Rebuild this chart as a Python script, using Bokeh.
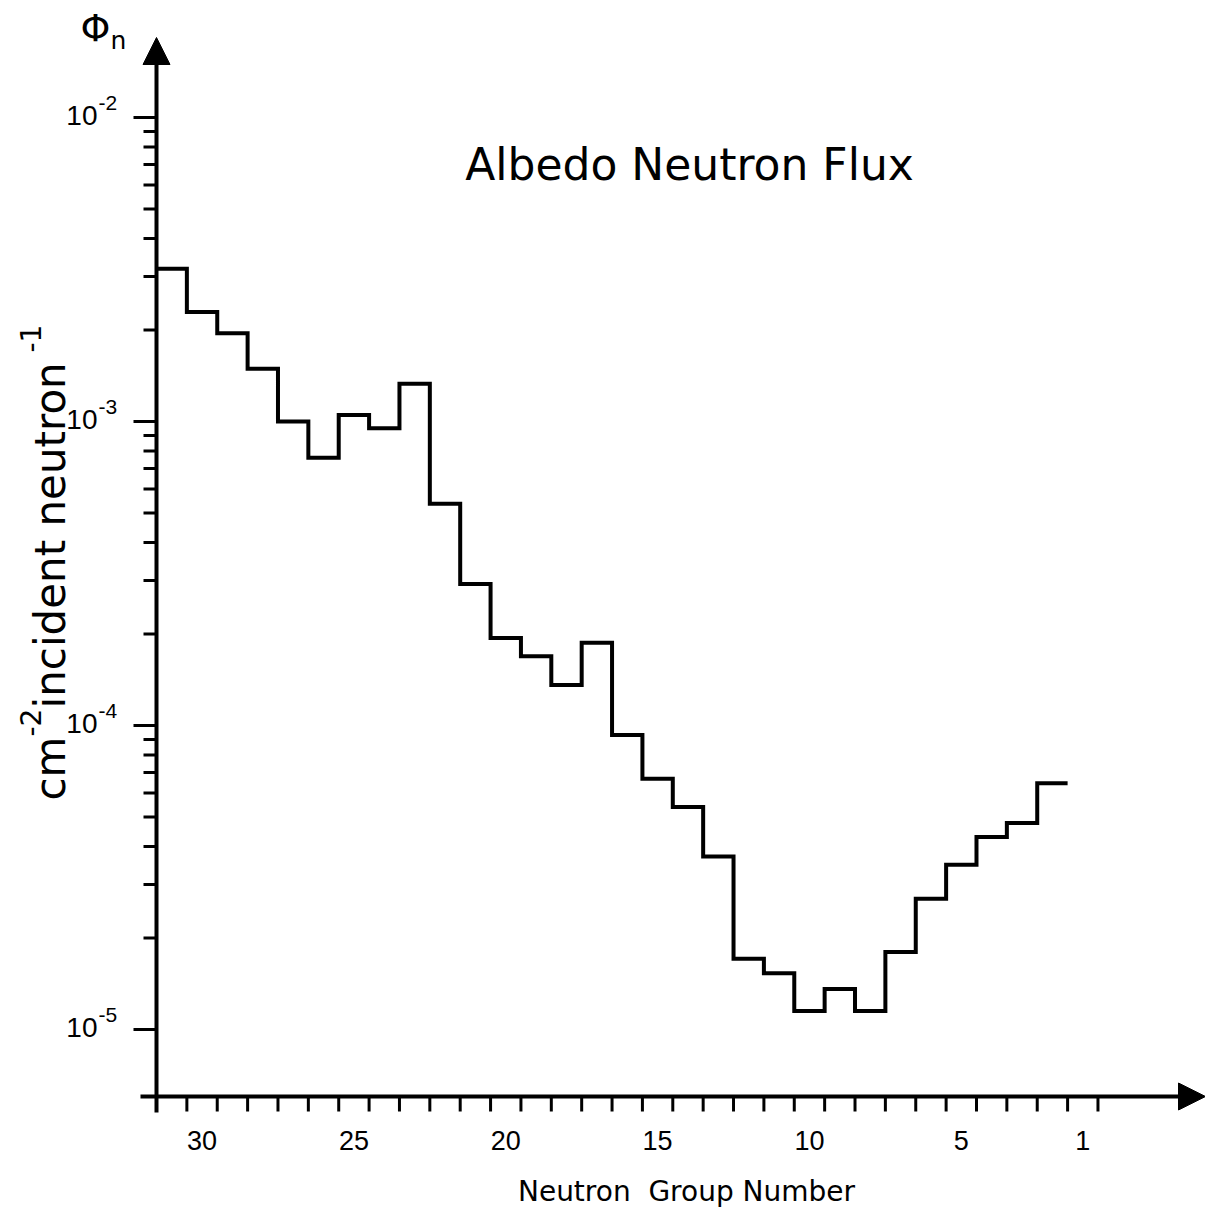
import numpy as np
from bokeh.plotting import figure
from bokeh.models import Range1d, Arrow, NormalHead, Label, ColumnDataSource
from bokeh.core.properties import value
from bokeh.embed import file_html
from bokeh.resources import INLINE

# ---------------- data ----------------
groups = list(range(31, 1, -1))          # neutron groups 31 .. 2
flux = [3.18e-3, 2.29e-3, 1.95e-3, 1.49e-3, 1.00e-3, 7.6e-4, 1.05e-3, 9.5e-4, 1.33e-3,
        5.36e-4, 2.92e-4, 1.94e-4, 1.69e-4, 1.36e-4, 1.87e-4, 9.3e-5,
        6.68e-5, 5.39e-5, 3.71e-5, 1.71e-5, 1.53e-5, 1.15e-5, 1.36e-5, 1.15e-5,
        1.80e-5, 2.69e-5, 3.48e-5, 4.30e-5, 4.78e-5, 6.46e-5]
x_tick_labels = [30, 25, 20, 15, 10, 5, 1]
x_tick_edges = list(np.arange(30.5, 0.0, -1.0))   # bin edges 30.5 .. 0.5
y_decades = [1e-2, 1e-3, 1e-4, 1e-5]
y_exponents = ["-2", "-3", "-4", "-5"]
y_minor = [k * d for d in [1e-5, 1e-4, 1e-3] for k in range(2, 10)]

title_text = "Albedo Neutron Flux"
xlabel_text = "Neutron\u00a0 Group Number"

# ---------------- geometry (pixels) ----------------
W, H = 1205, 1212
PXG = 30.37      # pixels per neutron group
DEC = 304.0      # pixels per decade
AXX = 156.0      # pixel column of the y axis (group edge 31.5)
AXY = 1096.0     # pixel row of the x axis
P2 = 117.0       # pixel row of 1e-2
BL = 0.37        # baseline correction (fraction of font size)


def to_x(px):
    return 31.5 - (px - AXX) / PXG


def to_y(py):
    return 10 ** (-2 - (py - P2) / DEC)


p = figure(width=W, height=H, x_range=Range1d(to_x(0), to_x(W)),
           y_range=Range1d(to_y(H), to_y(0)), y_axis_type="log",
           x_axis_location=None, y_axis_location=None,
           output_backend="svg", toolbar_location=None, min_border=0)
p.outline_line_color = None
p.grid.visible = False
p.background_fill_color = "white"
p.border_fill_color = "white"

Y_AX = to_y(AXY)
X_AX = 31.5

# ---------------- axes ----------------
head = dict(size=27, fill_color="black", line_color="black", line_width=1)
p.add_layout(Arrow(end=NormalHead(**head), x_start=X_AX, y_start=to_y(AXY + 16),
                   x_end=X_AX, y_end=to_y(37), line_width=4, line_color="black"))
p.add_layout(Arrow(end=NormalHead(**head), x_start=to_x(AXX - 16), y_start=Y_AX,
                   x_end=to_x(W), y_end=Y_AX, line_width=4, line_color="black"))

# y ticks (outward, to the left)
p.segment(x0=[X_AX] * len(y_decades), y0=y_decades,
          x1=[to_x(AXX - 23)] * len(y_decades), y1=y_decades,
          line_color="black", line_width=3)
p.segment(x0=[X_AX] * len(y_minor), y0=y_minor,
          x1=[to_x(AXX - 13)] * len(y_minor), y1=y_minor,
          line_color="black", line_width=3)
# x ticks (downward, at group edges)
p.segment(x0=x_tick_edges, y0=[Y_AX] * len(x_tick_edges),
          x1=x_tick_edges, y1=[to_y(AXY + 15)] * len(x_tick_edges),
          line_color="black", line_width=3)

# tick labels
XT_FS, YB_FS, YE_FS = 27, 28, 21
p.text(x=x_tick_labels, y=[to_y(1150 - BL * XT_FS)] * len(x_tick_labels),
       text=[str(v) for v in x_tick_labels], text_align="center",
       text_baseline="alphabetic", text_font=value("Liberation Sans"),
       text_font_size=f"{XT_FS}px", text_color="black")
ysrc = ColumnDataSource(dict(
    xb=[to_x(97)] * len(y_decades),
    yb=[d * 10 ** ((-8 + BL * YB_FS) / DEC) for d in y_decades],
    xe=[to_x(98)] * len(y_decades),
    ye=[d * 10 ** ((7 + BL * YE_FS) / DEC) for d in y_decades],
    base=["10"] * len(y_decades), expo=y_exponents))
p.text(x="xb", y="yb", text="base", source=ysrc, text_align="right",
       text_baseline="alphabetic", text_font=value("Liberation Sans"),
       text_font_size=f"{YB_FS}px", text_color="black")
p.text(x="xe", y="ye", text="expo", source=ysrc, text_align="left",
       text_baseline="alphabetic", text_font=value("Liberation Sans"),
       text_font_size=f"{YE_FS}px", text_color="black")

# ---------------- data: step histogram ----------------
g = np.array(groups, dtype=float)
xs = np.column_stack([g + 0.5, g - 0.5]).ravel()
ys = np.repeat(np.array(flux), 2)
p.line(xs, ys, line_color="black", line_width=4, line_join="miter")


# ---------------- texts ----------------
def lab(text, px, py, size, font="DejaVu Sans", align="left", angle=0):
    if angle == 0:
        py = py - BL * size
    else:
        px = px - BL * size
    return Label(x=to_x(px), y=to_y(py), text=text, text_font=font,
                 text_font_size=f"{size}px", text_align=align,
                 text_baseline="alphabetic", angle=angle, angle_units="deg",
                 text_color="black")


p.add_layout(lab(title_text, 689, 180, 44, align="center"))
p.add_layout(lab(xlabel_text, 686, 1201, 28, align="center"))
p.add_layout(lab("\u03a6", 95, 42, 38, align="center"))
p.add_layout(lab("n", 110, 49, 25))

# rotated y-axis label with superscripts
p.add_layout(lab("cm", 66, 800, 42, angle=90))
p.add_layout(lab("-2", 40, 736, 28, angle=90))
p.add_layout(lab("incident neutron", 66, 708, 42, angle=90))
p.add_layout(lab("-1", 40, 352, 28, angle=90))

open("out.html", "w").write(file_html(p, INLINE))
